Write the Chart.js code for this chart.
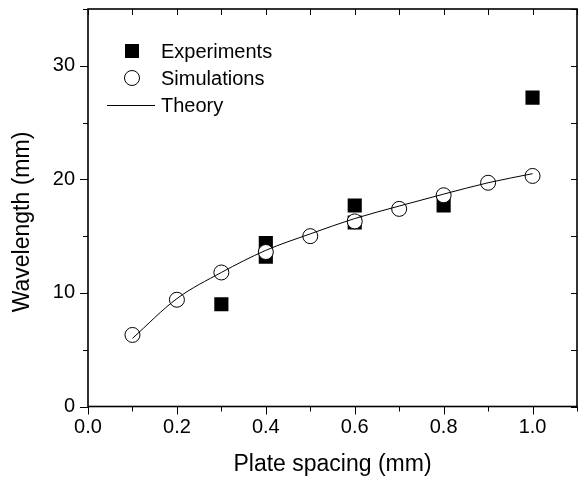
<!DOCTYPE html>
<html>
<head>
<meta charset="utf-8">
<script src="https://cdn.jsdelivr.net/npm/chart.js@4"></script>
<style>
    html, body { margin: 0; padding: 0; background: #ffffff; }
    #wrap { width: 578px; height: 478px; }
</style>
</head>
<body>
<div id="wrap"><canvas id="waveChart" width="578" height="478"></canvas></div>
<script>
// values
const simSpacing = [0.1, 0.2, 0.3, 0.4, 0.5, 0.6, 0.7, 0.8, 0.9, 1.0];
const simWavelength = [6.3, 9.4, 11.8, 13.6, 15.0, 16.3, 17.4, 18.6, 19.7, 20.3];

const expSpacing = [0.3, 0.4, 0.4, 0.6, 0.6, 0.8, 1.0];
const expWavelength = [9.0, 14.4, 13.2, 17.7, 16.2, 17.7, 27.2];

const theorySpacing = [0.1, 0.2, 0.3, 0.4, 0.5, 0.6, 0.7, 0.8, 0.9, 1.0];
const theoryWavelength = [6.0, 9.5, 11.8, 13.75, 15.2, 16.55, 17.65, 18.7, 19.7, 20.5];

const legendItems = ['Experiments', 'Simulations', 'Theory'];
const xTitle = 'Plate spacing (mm)';
const yTitle = 'Wavelength (mm)';

const FONT = '"Liberation Sans", Arial, sans-serif';

function toPoints(xs, ys) {
    return xs.map((x, i) => ({ x: x, y: ys[i] }));
}

// frame, tick marks (outside on left/bottom, inside on top/right), y title and legend
const framePlugin = {
    id: 'frame',
    afterDraw(chart) {
        const { ctx, chartArea: a, scales } = chart;
        const xs = scales.x, ys = scales.y;
        ctx.save();
        ctx.strokeStyle = '#000';
        ctx.lineWidth = 1;
        ctx.beginPath();
        xs.ticks.forEach(t => {
            const px = Math.round(xs.getPixelForValue(t.value)) + 0.5;
            const major = Math.round(t.value * 10) % 2 === 0;
            ctx.moveTo(px, a.bottom);
            ctx.lineTo(px, a.bottom + (major ? 8 : 5));
            ctx.moveTo(px, a.top);
            ctx.lineTo(px, a.top + 6);
        });
        ys.ticks.forEach(t => {
            const py = Math.round(ys.getPixelForValue(t.value)) + 0.5;
            const major = Math.round(t.value) % 10 === 0;
            ctx.moveTo(a.left, py);
            ctx.lineTo(a.left - (major ? 8 : 5), py);
            ctx.moveTo(a.right, py);
            ctx.lineTo(a.right - 6, py);
        });
        ctx.stroke();

        ctx.lineWidth = 1.6;
        ctx.strokeRect(a.left, a.top, a.right - a.left, a.bottom - a.top);

        // y axis title
        ctx.fillStyle = '#000';
        ctx.font = '23px ' + FONT;
        ctx.textAlign = 'center';
        ctx.textBaseline = 'middle';
        ctx.translate(23, 222);
        ctx.rotate(-Math.PI / 2);
        ctx.fillText(yTitle, 0, 0);
        ctx.setTransform(1, 0, 0, 1, 0, 0);

        // legend
        const lx = 132, tx = 161, rows = [51, 78, 105];
        ctx.font = '20px ' + FONT;
        ctx.textAlign = 'left';
        ctx.fillRect(lx - 7, rows[0] - 7, 14, 14);
        ctx.lineWidth = 1;
        ctx.beginPath();
        ctx.arc(lx, rows[1], 7.5, 0, Math.PI * 2);
        ctx.stroke();
        ctx.beginPath();
        ctx.moveTo(107, rows[2] + 0.5);
        ctx.lineTo(155, rows[2] + 0.5);
        ctx.stroke();
        legendItems.forEach((txt, i) => ctx.fillText(txt, tx, rows[i] + 1));
        ctx.restore();
    }
};

const ctx = document.getElementById('waveChart').getContext('2d');

new Chart(ctx, {
    type: 'scatter',
    data: {
        datasets: [
            {
                label: 'Theory',
                type: 'line',
                data: toPoints(theorySpacing, theoryWavelength),
                borderColor: '#000',
                borderWidth: 1,
                pointRadius: 0,
                cubicInterpolationMode: 'monotone',
                fill: false
            },
            {
                label: 'Simulations',
                data: toPoints(simSpacing, simWavelength),
                pointStyle: 'circle',
                pointRadius: 7.5,
                borderWidth: 1,
                borderColor: '#000',
                backgroundColor: '#fff'
            },
            {
                label: 'Experiments',
                data: toPoints(expSpacing, expWavelength),
                pointStyle: 'rect',
                pointRadius: 10,
                borderWidth: 0,
                borderColor: '#000',
                backgroundColor: '#000'
            }
        ]
    },
    options: {
        responsive: false,
        animation: false,
        events: [],
        layout: { autoPadding: false, padding: { left: 0, right: 1, top: 9, bottom: 0 } },
        scales: {
            x: {
                type: 'linear',
                min: 0,
                max: 1.1,
                grid: { display: false, drawTicks: false },
                border: { display: false },
                afterFit(scale) {
                    scale.height = 71.5;
                    scale.paddingLeft = 0;
                    scale.paddingRight = 0;
                },
                ticks: {
                    stepSize: 0.1,
                    autoSkip: false,
                    maxRotation: 0,
                    padding: 9,
                    color: '#000',
                    font: { family: FONT, size: 20 },
                    callback: v => Math.round(v * 10) % 2 === 0 ? v.toFixed(1) : ''
                },
                title: {
                    display: true,
                    text: xTitle,
                    color: '#000',
                    font: { family: FONT, size: 23 },
                    padding: { top: 8, bottom: 0 }
                }
            },
            y: {
                type: 'linear',
                min: 0,
                max: 35,
                grid: { display: false, drawTicks: false },
                border: { display: false },
                afterFit(scale) {
                    scale.width = 88;
                    scale.paddingTop = 0;
                    scale.paddingBottom = 0;
                },
                ticks: {
                    stepSize: 5,
                    autoSkip: false,
                    padding: 13,
                    color: '#000',
                    font: { family: FONT, size: 20 },
                    callback: v => v % 10 === 0 ? String(v) : ''
                }
            }
        },
        plugins: {
            legend: { display: false },
            tooltip: { enabled: false }
        }
    },
    plugins: [framePlugin]
});
</script>
</body>
</html>
